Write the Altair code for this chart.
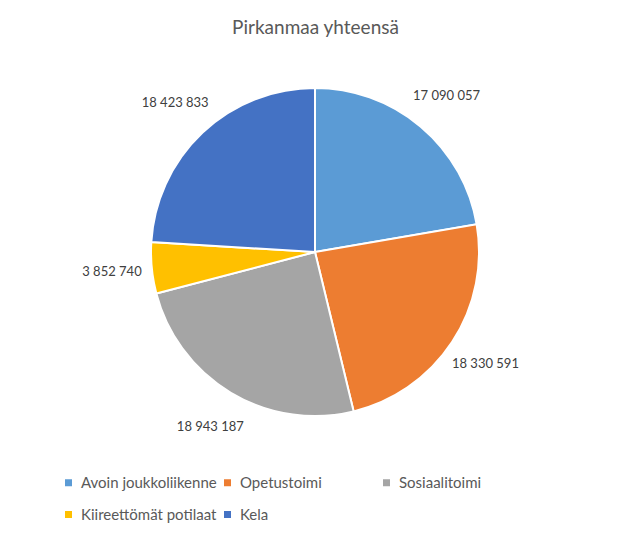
import altair as alt
import pandas as pd

categories = ["Avoin joukkoliikenne", "Opetustoimi", "Sosiaalitoimi", "Kiireettömät potilaat", "Kela"]
values = [17090057, 18330591, 18943187, 3852740, 18423833]
colors = ["#5B9BD5", "#ED7D31", "#A5A5A5", "#FFC000", "#4472C4"]

df = pd.DataFrame({
    "kategoria": categories,
    "arvo": values,
    "jarjestys": list(range(len(categories))),
    "nimi": [f"{v:,}".replace(",", " ") for v in values],
})

FONT = "Lato"
CX, CY = 307, 199

base = alt.Chart(df).encode(
    theta=alt.Theta("arvo:Q", stack=True),
    order=alt.Order("jarjestys:O", sort="ascending"),
)

pie = base.mark_arc(outerRadius=164, stroke="white", strokeWidth=2).encode(
    x=alt.value(CX),
    y=alt.value(CY),
    color=alt.Color(
        "kategoria:N",
        scale=alt.Scale(domain=categories, range=colors),
        sort=None,
        legend=alt.Legend(
            title=None,
            orient="none",
            legendX=53,
            legendY=422,
            direction="horizontal",
            columns=3,
            gridAlign="all",
            columnPadding=3,
            rowPadding=16,
            symbolType="square",
            symbolSize=49,
            symbolStrokeWidth=0,
            labelFont=FONT,
            labelFontSize=15,
            labelColor="#595959",
            labelLimit=300,
            labelOffset=5,
            padding=0,
        ),
    ),
)

labels = base.mark_text(radius=204, font=FONT, fontSize=13, color="#404040").encode(
    x=alt.value(CX),
    y=alt.value(CY),
    text="nimi:N",
)

chart = (
    alt.layer(pie, labels)
    .properties(
        width=615,
        height=474,
        padding={"top": 45, "left": 0, "right": 0, "bottom": 0},
        autosize=alt.AutoSizeParams(type="none"),
        title=alt.TitleParams(
            "Pirkanmaa yhteensä",
            font=FONT,
            fontSize=19,
            fontWeight="normal",
            color="#595959",
            anchor="middle",
            offset=15,
        ),
    )
    .configure_view(stroke=None)
)

chart.save("out.html", embed_options={"renderer": "svg", "actions": False})
